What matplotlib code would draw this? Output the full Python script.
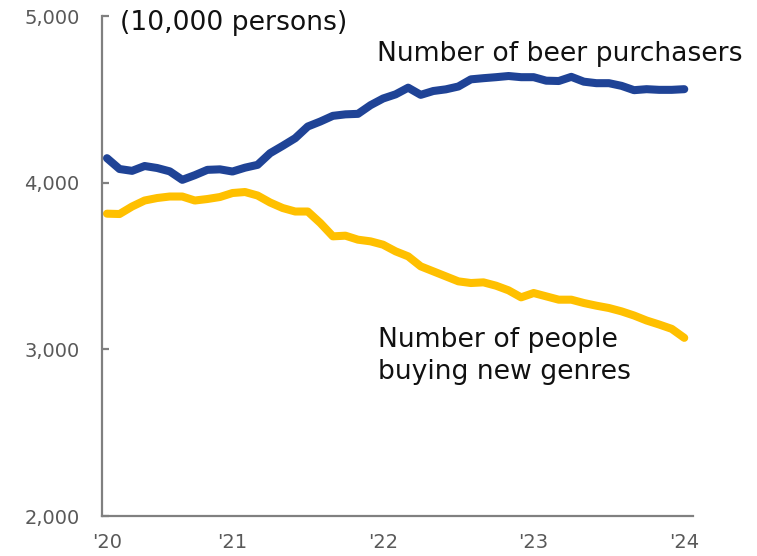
import matplotlib
matplotlib.use("Agg")
import matplotlib.pyplot as plt
from matplotlib.ticker import FuncFormatter

# monthly, Mar 2020 .. Jan 2024 (unit: 10,000 persons)
beer = [4147, 4082, 4071, 4100, 4088, 4068, 4017, 4045, 4077, 4080,
        4067, 4090, 4107, 4177, 4221, 4267, 4337, 4367, 4401, 4410,
        4413, 4465, 4505, 4530, 4570, 4527, 4550, 4560, 4577, 4620,
        4627, 4633, 4640, 4633, 4633, 4612, 4610, 4635, 4606, 4597,
        4597, 4581, 4555, 4561, 4557, 4557, 4561]
new_genre = [3814, 3812, 3857, 3893, 3908, 3917, 3917, 3893, 3902, 3914,
             3938, 3944, 3923, 3881, 3848, 3827, 3827, 3758, 3678, 3682,
             3658, 3648, 3628, 3588, 3558, 3498, 3468, 3438, 3408, 3398,
             3402, 3382, 3354, 3312, 3338, 3318, 3298, 3298, 3278, 3262,
             3248, 3228, 3203, 3173, 3149, 3123, 3069]
year_pos = [0, 10, 22, 34, 46]
year_labels = ["'20", "'21", "'22", "'23", "'24"]
y_ticks = [2000, 3000, 4000, 5000]

BLUE = "#1f4396"
YELLOW = "#ffc000"
GREY = "#808080"

fig = plt.figure(figsize=(7.57, 5.56), dpi=100)
ax = fig.add_axes([0.1347, 0.0719, 0.7808, 0.8993])

x = list(range(len(beer)))
ax.plot(x, beer, color=BLUE, lw=5.8, solid_capstyle="round", solid_joinstyle="round")
ax.plot(x, new_genre, color=YELLOW, lw=5.8, solid_capstyle="round", solid_joinstyle="round")

ax.set_xlim(-0.4, 46.7)
ax.set_ylim(2000, 5000)
ax.set_yticks(y_ticks)
ax.yaxis.set_major_formatter(FuncFormatter(lambda v, p: f"{int(v):,}"))
ax.set_xticks(year_pos)
ax.set_xticklabels(year_labels)

for s in ["top", "right"]:
    ax.spines[s].set_visible(False)
for s in ["left", "bottom"]:
    ax.spines[s].set_color(GREY)
    ax.spines[s].set_linewidth(1.6)

ax.tick_params(axis="y", direction="in", length=5, width=1.6, color=GREY,
               labelsize=14, labelcolor="#595959", pad=16)
ax.tick_params(axis="x", length=0, labelsize=14, labelcolor="#595959", pad=12)

txt = dict(fontsize=19.2, color="#111111", va="center", ha="left")
ax.text(1.0, 4960, "(10,000 persons)", **txt)
ax.text(21.5, 4772, "Number of beer purchasers", **txt)
ax.text(21.6, 2958, "Number of people\nbuying new genres", linespacing=1.3, **txt)

fig.savefig("out.png", dpi=100)
